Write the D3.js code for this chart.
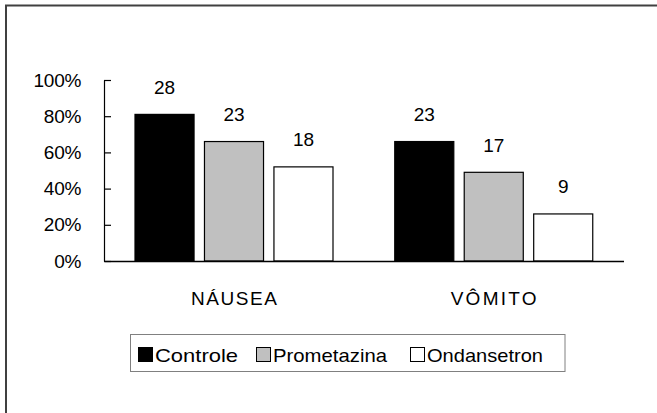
<!DOCTYPE html>
<html>
<head>
<meta charset="utf-8">
<script src="https://cdn.jsdelivr.net/npm/d3@7"></script>
<style>
  html, body { margin: 0; padding: 0; background: #fff; }
  svg { display: block; }
  text { font-family: "Liberation Sans", Arial, sans-serif; fill: #000; }
</style>
</head>
<body>
<svg id="chart" width="657" height="413"></svg>
<script>
// ---- data ----
const categories = ["NÁUSEA", "VÔMITO"];
const seriesNames = ["Controle", "Prometazina", "Ondansetron"];
const seriesColors = ["#000000", "#c0c0c0", "#ffffff"];
const controlePct = [81, 66];
const prometazinaPct = [66, 49];
const ondansetronPct = [52, 26];
const controleN = [28, 23];
const prometazinaN = [23, 17];
const ondansetronN = [18, 9];
const yTickValues = [0, 20, 40, 60, 80, 100];

const pctBySeries = [controlePct, prometazinaPct, ondansetronPct];
const nBySeries = [controleN, prometazinaN, ondansetronN];

const svg = d3.select("#chart");

// outer frame (extends beyond right/bottom edges)
svg.append("rect")
  .attr("x", 6).attr("y", 5.5)
  .attr("width", 720).attr("height", 500)
  .attr("fill", "none")
  .attr("stroke", "#404040")
  .attr("stroke-width", 2);

const x0 = d3.scaleBand().domain(categories).range([104, 623.5]).padding(0);
const x1 = d3.scaleBand().domain(seriesNames).range([31, 229]).paddingInner(0.15).paddingOuter(0);
const y = d3.scaleLinear().domain([0, 100]).range([261, 80]);

// bars
const rows = [];
categories.forEach((c, ci) => {
  seriesNames.forEach((s, si) => {
    rows.push({ cat: c, ser: s, si, pct: pctBySeries[si][ci], n: nBySeries[si][ci] });
  });
});

const g = svg.append("g");
g.selectAll("rect.bar").data(rows).enter().append("rect")
  .attr("class", "bar")
  .attr("x", d => x0(d.cat) + x1(d.ser))
  .attr("y", d => y(d.pct))
  .attr("width", x1.bandwidth())
  .attr("height", d => y(0) - y(d.pct))
  .attr("fill", d => seriesColors[d.si])
  .attr("stroke", "#000")
  .attr("stroke-width", 1.2);

g.selectAll("text.val").data(rows).enter().append("text")
  .attr("class", "val")
  .attr("x", d => x0(d.cat) + x1(d.ser) + x1.bandwidth() / 2)
  .attr("y", d => y(d.pct) - 20.5)
  .attr("text-anchor", "middle")
  .attr("font-size", 19)
  .text(d => d.n);

// y axis (ticks inside, to the right)
const yAxis = d3.axisLeft(y)
  .tickValues(yTickValues)
  .tickFormat(d => d + "%")
  .tickSizeInner(-7)
  .tickSizeOuter(0)
  .tickPadding(23);
const yg = svg.append("g").attr("transform", "translate(104,0)").call(yAxis);
yg.select(".domain").attr("stroke", "#000").attr("stroke-width", 1.2);
yg.selectAll(".tick line").attr("stroke", "#000").attr("stroke-width", 1.2);
yg.selectAll(".tick text")
  .attr("font-size", 19)
  .attr("font-family", "'Liberation Sans', Arial, sans-serif")
  .attr("fill", "#000")
  .attr("letter-spacing", -0.3);

// x axis
const xAxis = d3.axisBottom(x0).tickSize(0).tickSizeOuter(0).tickPadding(31);
const xg = svg.append("g").attr("transform", "translate(0,261)").call(xAxis);
xg.select(".domain").attr("stroke", "#000").attr("stroke-width", 1.5);
xg.selectAll(".tick text")
  .attr("font-size", 19)
  .attr("font-family", "'Liberation Sans', Arial, sans-serif")
  .attr("fill", "#000")
  .attr("textLength", 86)
  .attr("lengthAdjust", "spacing");

// legend
const legend = svg.append("g");
legend.append("rect")
  .attr("x", 130.5).attr("y", 334.5)
  .attr("width", 434.5).attr("height", 37)
  .attr("fill", "#fff")
  .attr("stroke", "#808080")
  .attr("stroke-width", 1);

const legendSwatchX = [138, 256, 410];
const legendTextX = [155, 273, 427];
const legendTextW = [83, 114, 116];
seriesNames.forEach((s, i) => {
  legend.append("rect")
    .attr("x", legendSwatchX[i] + 0.5).attr("y", 347.5)
    .attr("width", 14).attr("height", 14)
    .attr("fill", seriesColors[i])
    .attr("stroke", "#000")
    .attr("stroke-width", 1);
  legend.append("text")
    .attr("x", legendTextX[i]).attr("y", 362)
    .attr("font-size", 19)
    .attr("textLength", legendTextW[i])
    .attr("lengthAdjust", "spacingAndGlyphs")
    .text(s);
});
</script>
</body>
</html>
